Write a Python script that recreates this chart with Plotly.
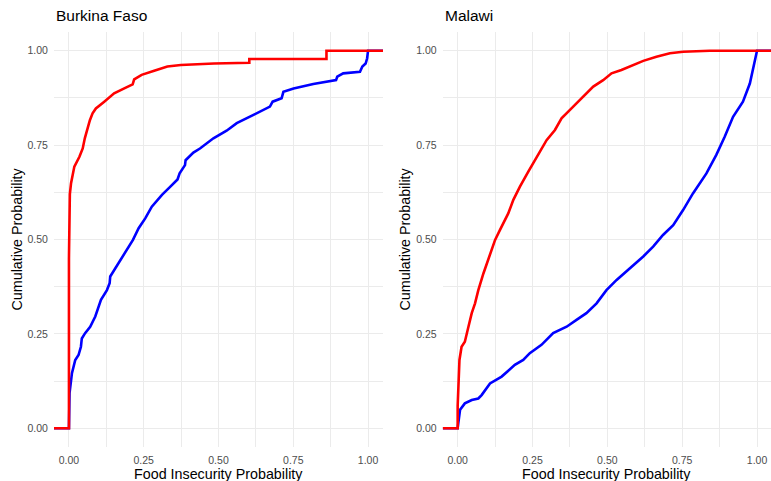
import plotly.graph_objects as go

# ---------------- data ----------------
panels = ["Burkina Faso", "Malawi"]
tick_vals = [0.0, 0.25, 0.5, 0.75, 1.0]
tick_text = ["0.00", "0.25", "0.50", "0.75", "1.00"]

# Burkina Faso, red curve
bf_red_x = [0.0, 0.0, 0.001, 0.003, 0.007, 0.018, 0.035, 0.046, 0.053, 0.062, 0.07, 0.079,
            0.09, 0.118, 0.151, 0.185, 0.213, 0.218, 0.243, 0.285, 0.329, 0.374, 0.438,
            0.485, 0.603, 0.603, 0.861, 0.861, 1.0]
bf_red_y = [0.0, 0.45, 0.56, 0.62, 0.649, 0.693, 0.719, 0.741, 0.768, 0.794, 0.816, 0.834,
            0.847, 0.865, 0.887, 0.900, 0.911, 0.924, 0.936, 0.947, 0.958, 0.962, 0.965,
            0.966, 0.968, 0.978, 0.978, 1.0, 1.0]

# Burkina Faso, blue curve
bf_blue_x = [0.0, 0.002, 0.01, 0.021, 0.032, 0.04, 0.043, 0.054, 0.071, 0.088, 0.107, 0.127,
             0.136, 0.138, 0.166, 0.194, 0.214, 0.233, 0.255, 0.277, 0.311, 0.339, 0.363,
             0.37, 0.388, 0.39, 0.416, 0.438, 0.449, 0.483, 0.527, 0.561, 0.617, 0.672,
             0.681, 0.711, 0.717, 0.751, 0.817, 0.861, 0.893, 0.897, 0.917, 0.973, 0.981,
             0.992, 0.997, 1.0]
bf_blue_y = [0.0, 0.093, 0.146, 0.181, 0.194, 0.216, 0.238, 0.252, 0.269, 0.296, 0.34, 0.366,
             0.384, 0.402, 0.437, 0.472, 0.499, 0.53, 0.556, 0.587, 0.618, 0.64, 0.659,
             0.675, 0.697, 0.71, 0.73, 0.741, 0.748, 0.768, 0.788, 0.808, 0.83, 0.852,
             0.865, 0.874, 0.891, 0.90, 0.912, 0.918, 0.922, 0.931, 0.94, 0.944, 0.958,
             0.966, 0.98, 1.0]

# Malawi, red curve
mw_red_x = [0.0, 0.0, 0.002, 0.006, 0.013, 0.024, 0.036, 0.047, 0.058, 0.069, 0.086, 0.106,
            0.125, 0.141, 0.169, 0.186, 0.208, 0.236, 0.264, 0.297, 0.325, 0.347, 0.386,
            0.419, 0.453, 0.486, 0.514, 0.547, 0.586, 0.62, 0.664, 0.709, 0.753, 0.842, 1.0]
mw_red_y = [0.0, 0.06, 0.12, 0.181, 0.216, 0.229, 0.269, 0.305, 0.331, 0.366, 0.41, 0.455,
            0.499, 0.525, 0.569, 0.605, 0.64, 0.68, 0.719, 0.763, 0.79, 0.821, 0.852,
            0.878, 0.905, 0.922, 0.94, 0.949, 0.962, 0.973, 0.984, 0.993, 0.997, 1.0, 1.0]

# Malawi, blue curve
mw_blue_x = [0.0, 0.002, 0.008, 0.024, 0.047, 0.069, 0.08, 0.108, 0.147, 0.191, 0.219, 0.241,
             0.28, 0.319, 0.364, 0.397, 0.43, 0.464, 0.497, 0.531, 0.575, 0.62, 0.653,
             0.686, 0.72, 0.753, 0.786, 0.809, 0.831, 0.864, 0.892, 0.92, 0.953, 0.976,
             0.992, 1.0]
mw_blue_y = [0.0, 0.013, 0.049, 0.066, 0.075, 0.079, 0.088, 0.119, 0.137, 0.168, 0.181, 0.199,
             0.221, 0.252, 0.269, 0.287, 0.305, 0.331, 0.366, 0.393, 0.424, 0.455, 0.481,
             0.512, 0.538, 0.578, 0.622, 0.649, 0.675, 0.724, 0.772, 0.825, 0.865, 0.913,
             0.966, 1.0]

# ---------------- figure ----------------
W, H = 771, 481
XR = [-0.05, 1.05]
YR = [-0.05, 1.05]
FONT = "Liberation Sans, Arial, sans-serif"
GRID = "#EBEBEB"


def pad(xs, ys, rng):
    # stat_ecdf style: extend to panel edges
    return [rng[0]] + list(xs) + [rng[1]], [ys[0]] + list(ys) + [ys[-1]]


fig = go.Figure()
series = [
    ("x", "y", bf_blue_x, bf_blue_y, "#0000FF"),
    ("x", "y", bf_red_x, bf_red_y, "#FF0000"),
    ("x2", "y2", mw_blue_x, mw_blue_y, "#0000FF"),
    ("x2", "y2", mw_red_x, mw_red_y, "#FF0000"),
]
for xa, ya, xs, ys, col in series:
    px_, py_ = pad(xs, ys, XR)
    fig.add_trace(go.Scatter(x=px_, y=py_, xaxis=xa, yaxis=ya, mode="lines",
                             line=dict(color=col, width=2.6), showlegend=False,
                             hoverinfo="skip"))

ydom = [1 - 447.2 / H, 1 - 31.8 / H]
xdom1 = [54 / W, 383 / W]
xdom2 = [442.7 / W, 1.0]

axis_common = dict(
    tickvals=tick_vals, ticktext=tick_text, showgrid=True, gridcolor=GRID, gridwidth=1.1,
    zeroline=False, showline=False, ticks="outside", ticklen=3, tickcolor="rgba(0,0,0,0)",
    tickfont=dict(family=FONT, size=10.5, color="#4D4D4D"),
    minor=dict(tickvals=[0.125, 0.375, 0.625, 0.875], showgrid=True, gridcolor=GRID,
               gridwidth=0.55, ticks=""),
    fixedrange=True,
)

fig.update_layout(
    width=W, height=H, margin=dict(l=0, r=0, t=0, b=0),
    paper_bgcolor="white", plot_bgcolor="white",
    xaxis=dict(domain=xdom1, range=XR, anchor="y", **axis_common),
    yaxis=dict(domain=ydom, range=YR, anchor="x", **axis_common),
    xaxis2=dict(domain=xdom2, range=[-0.05, 1.0467], anchor="y2", **axis_common),
    yaxis2=dict(domain=ydom, range=YR, anchor="x2", **axis_common),
)

ann = []
for i, name in enumerate(panels):
    dom = xdom1 if i == 0 else xdom2
    # panel title
    ann.append(dict(text=name, x=dom[0], y=1 - 15.5 / H, xref="paper", yref="paper",
                    xanchor="left", yanchor="middle", showarrow=False,
                    font=dict(family=FONT, size=15.5, color="black")))
    # x axis title
    ann.append(dict(text="Food Insecurity Probability", x=(dom[0] + min(dom[1], 772 / W)) / 2,
                    y=1 - 473.5 / H, xref="paper", yref="paper", xanchor="center",
                    yanchor="middle", showarrow=False,
                    font=dict(family=FONT, size=14.3, color="black")))
    # y axis title
    yx = 16 / W if i == 0 else 404 / W
    ann.append(dict(text="Cumulative Probability", x=yx, y=(ydom[0] + ydom[1]) / 2,
                    xref="paper", yref="paper", xanchor="center", yanchor="middle",
                    textangle=-90, showarrow=False,
                    font=dict(family=FONT, size=14.3, color="black")))
fig.update_layout(annotations=ann)

fig.write_html(
    "out.html",
    config={"displayModeBar": False},
    post_script="document.body.style.margin='0';document.body.style.overflow='hidden';",
)
